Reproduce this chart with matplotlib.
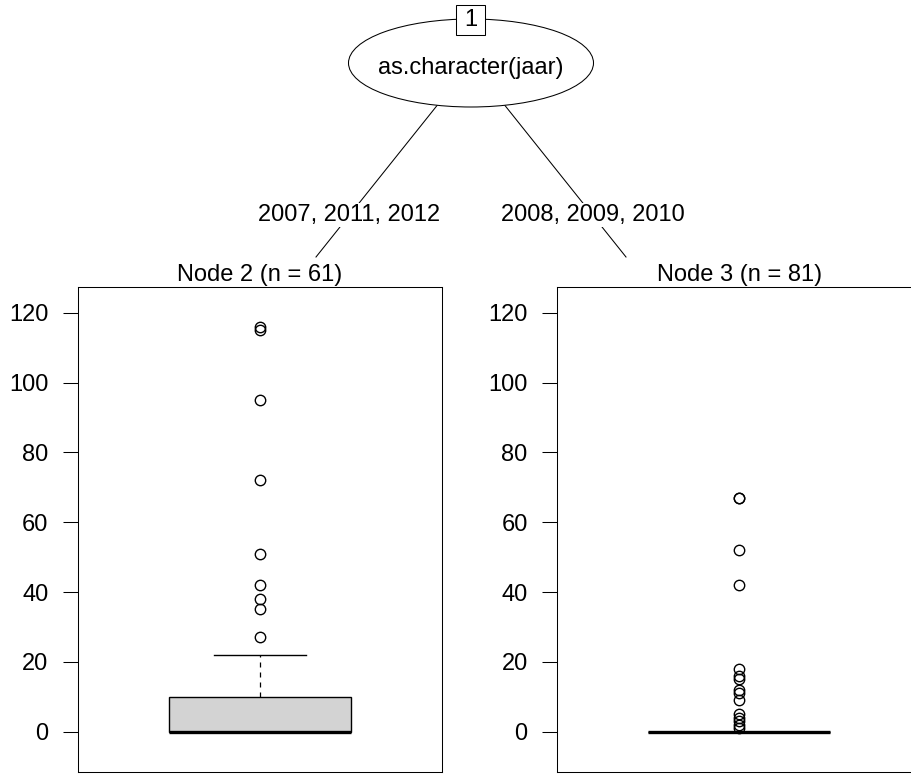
import numpy as np
import matplotlib
matplotlib.use('Agg')
import matplotlib.pyplot as plt
from matplotlib.patches import Ellipse, Rectangle

plt.rcParams['font.family'] = ['Liberation Sans', 'DejaVu Sans']
FS = 17

# tree labels
split_var = "as.character(jaar)"
node_ids = [1, 2, 3]
edge_labels = ["2007, 2011, 2012", "2008, 2009, 2010"]
node_n = [61, 81]

# boxplot summaries
med = [0, 0]
q1 = [0, 0]
q3 = [10, 0]
whis_lo = [0, 0]
whis_hi = [22, 0]
fliers_2 = [27, 35, 38, 42, 51, 72, 95, 115, 116]
fliers_3 = [1, 2, 3, 4, 5, 9, 11, 12, 15, 16, 18, 42, 52, 67, 67]
yticks = [0, 20, 40, 60, 80, 100, 120]

W, H = 911, 774
fig = plt.figure(figsize=(W / 100, H / 100), dpi=100)

# overlay for the tree part, in pixel units
ax0 = fig.add_axes([0, 0, 1, 1])
ax0.set_xlim(0, W)
ax0.set_ylim(H, 0)
ax0.axis('off')

root = (471, 63)
ends = [(316, 257), (626, 257)]
for (ex, ey), lab in zip(ends, edge_labels):
    ax0.plot([root[0], ex], [root[1], ey], color='black', lw=0.75, zorder=1)
    t = (215 - root[1]) / (ey - root[1])
    lx = root[0] + t * (ex - root[0])
    ax0.text(lx, 215, lab, ha='center', va='center', fontsize=FS, zorder=3,
             bbox=dict(boxstyle='square,pad=0.05', fc='white', ec='none'))

ax0.add_patch(Ellipse(root, 245, 88, fc='white', ec='black', lw=0.75, zorder=4))
ax0.text(root[0], 74, split_var, ha='center', va='baseline', fontsize=FS, zorder=5)
ax0.add_patch(Rectangle((456, 5), 29, 30, fc='white', ec='black', lw=0.75, zorder=6))
ax0.text(470.5, 20, str(node_ids[0]), ha='center', va='center', fontsize=FS, zorder=7)

# terminal node panels
panel_x = [78, 557.3]
panel_w = 364
panel_top, panel_bot = 287.3, 771.7
fliers = [fliers_2, fliers_3]

for i in range(2):
    ax = fig.add_axes([panel_x[i] / W, (H - panel_bot) / H,
                       panel_w / W, (panel_bot - panel_top) / H])
    stats = [dict(med=med[i], q1=q1[i], q3=q3[i], whislo=whis_lo[i],
                  whishi=whis_hi[i], fliers=fliers[i])]
    ax.bxp(stats, positions=[0.5], widths=0.5, capwidths=0.25, patch_artist=True,
           boxprops=dict(facecolor='#d3d3d3', edgecolor='black', lw=1),
           medianprops=dict(color='black', lw=2.4, solid_capstyle='butt'),
           whiskerprops=dict(color='black', lw=0.9, linestyle=(0, (4, 4))),
           capprops=dict(color='black', lw=1),
           flierprops=dict(marker='o', markerfacecolor='none', markeredgecolor='black',
                           markersize=7.5, markeredgewidth=1))
    ax.set_xlim(0, 1)
    ax.set_ylim(-11.46, 127.27)
    ax.set_yticks(yticks)
    ax.set_xticks([])
    ax.tick_params(axis='y', length=10.8, width=0.75, pad=10.5, labelsize=FS,
                   direction='out')
    for s in ax.spines.values():
        s.set_linewidth(0.75)
    cx = panel_x[i] + panel_w / 2
    ax0.text(cx, 281, "Node %d (n = %d)" % (node_ids[i + 1], node_n[i]),
             ha='center', va='baseline', fontsize=FS)

fig.savefig('out.png', dpi=100)
